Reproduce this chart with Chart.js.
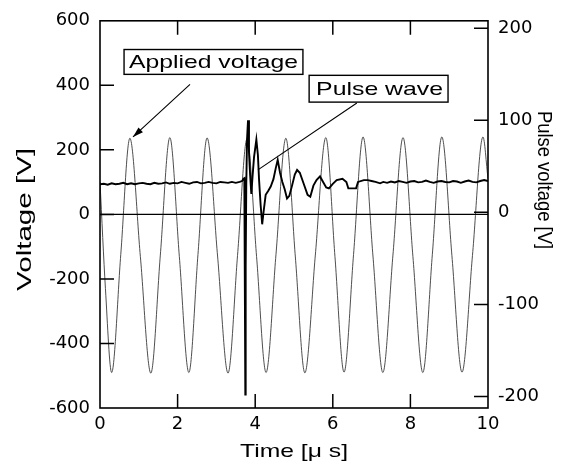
<!DOCTYPE html>
<html>
<head>
<meta charset="utf-8">
<script src="https://cdn.jsdelivr.net/npm/chart.js@4.4.1/dist/chart.umd.min.js"></script>
<style>
  html, body { margin: 0; padding: 0; background: #fff; }
</style>
</head>
<body>
<canvas id="grafico" width="570" height="466"></canvas>
<script>
// Valores (tiempo en µs, tensión en V)
const xTicks = [0, 2, 4, 6, 8, 10];
const leftTicks = [-600, -400, -200, 0, 200, 400, 600];
const rightTicks = [-200, -100, 0, 100, 200];

// Tensión aplicada (eje izquierdo)
const appliedTime = [0, 0.14, 0.30, 0.535, 0.77, 1.04, 1.31, 1.555, 1.80, 2.045, 2.29, 2.525, 2.76, 3.03,
  3.30, 3.545, 3.79, 4.035, 4.28, 4.535, 4.79, 5.035, 5.28, 5.55, 5.82, 6.055, 6.29, 6.535, 6.78, 7.035,
  7.29, 7.55, 7.81, 8.065, 8.32, 8.565, 8.81, 9.07, 9.33, 9.60, 9.87, 10];
const appliedVolt = [100, -230, -490, -125, 236, -130, -492, -126, 238, -131, -490, -124, 237, -129,
  -492, -127, 234, -130, -490, -125, 236, -132, -491, -126, 238, -130, -489, -124, 240, -129,
  -490, -126, 238, -131, -490, -125, 240, -128, -489, -127, 240, 110];

// Onda de pulso (eje derecho)
const pulseTime = [0, 0.1, 0.2, 0.3, 0.4, 0.5, 0.6, 0.7, 0.8, 0.9, 1.0, 1.1, 1.2, 1.3, 1.4, 1.5, 1.6, 1.7,
  1.8, 1.9, 2.0, 2.1, 2.2, 2.3, 2.4, 2.5, 2.6, 2.7, 2.8, 2.9, 3.0, 3.1, 3.2, 3.3, 3.4, 3.5, 3.6,
  3.66, 3.70, 3.72, 3.735, 3.745, 3.755, 3.77, 3.79, 3.815, 3.84, 3.87, 3.90, 3.93, 3.97, 4.03, 4.07,
  4.10, 4.14, 4.18, 4.22, 4.27, 4.33, 4.40, 4.47, 4.53, 4.58, 4.64, 4.70, 4.76, 4.82, 4.88, 4.95,
  5.02, 5.08, 5.15, 5.25, 5.35, 5.42, 5.50, 5.58, 5.67, 5.75, 5.83, 5.90, 6.00, 6.10, 6.25, 6.35,
  6.40, 6.60, 6.65, 6.80, 6.90, 7.00, 7.10, 7.22,
  7.3, 7.4, 7.5, 7.6, 7.7, 7.8, 7.9, 8.0, 8.1, 8.2, 8.3, 8.4, 8.5, 8.6, 8.7, 8.8, 8.9, 9.0, 9.1,
  9.2, 9.3, 9.4, 9.5, 9.6, 9.7, 9.8, 9.9, 10.0];
const pulseVolt = [30.5, 31, 30, 31.5, 30.5, 31, 32, 30.5, 31.5, 30.5, 31.5, 32, 31, 30.5, 32, 31, 31.5, 32.5,
  31, 32, 31.5, 33, 32, 31, 32.5, 33, 31.5, 32, 33, 32, 31.5, 33, 32.5, 32, 33, 32, 33,
  34, 36.5, 37, -100, -198, -60, 30, 80, 100, 65, 40, 20, 38, 60, 79, 62,
  35, 8, -13, 2, 19, 23, 28, 36, 48, 57, 43, 33, 25, 15, 18, 29,
  41, 46, 43, 31, 19, 17, 29, 35, 39, 33, 27, 26, 31, 35, 36.5, 33,
  26, 26, 33, 35, 35, 34, 33, 31.5,
  33, 32, 33.5, 32.5, 34, 33, 32, 33.5, 34, 32.5, 33, 34.5, 33, 32, 33.5, 34, 33, 32.5, 34,
  33.5, 32, 33.5, 34.5, 33, 32.5, 34, 35, 34];

const fuente = '"DejaVu Sans"';
Chart.defaults.font.family = fuente;
Chart.defaults.color = '#000';

const toPoints = (xs, ys) => xs.map((x, i) => ({ x: x, y: ys[i] }));

function textoAjustado(ctx, txt, cx, cy, largo, size, rot) {
  ctx.save();
  ctx.font = size + 'px "Liberation Sans"';
  const w = ctx.measureText(txt).width;
  ctx.translate(cx, cy);
  ctx.rotate(rot);
  ctx.scale(largo / w, 1);
  ctx.textAlign = 'center';
  ctx.textBaseline = 'middle';
  ctx.fillStyle = '#000';
  ctx.fillText(txt, 0, 0);
  ctx.restore();
}

// Marco, marcas interiores, línea de cero, rótulos y títulos
const marco = {
  id: 'marco',
  afterDatasetsDraw(chart) {
    const { ctx, chartArea: a, scales } = chart;
    const sx = scales.x, sy = scales.y, sy2 = scales.y2;
    ctx.save();
    ctx.strokeStyle = '#000';

    // línea de cero
    ctx.lineWidth = 1.2;
    ctx.beginPath();
    ctx.moveTo(a.left, sy.getPixelForValue(0));
    ctx.lineTo(a.right, sy.getPixelForValue(0));
    ctx.stroke();

    // marcas hacia dentro
    const largo = 14;
    ctx.lineWidth = 1.5;
    ctx.beginPath();
    leftTicks.slice(1, -1).forEach(v => {
      const y = sy.getPixelForValue(v);
      ctx.moveTo(a.left, y); ctx.lineTo(a.left + largo, y);
    });
    rightTicks.forEach(v => {
      const y = sy2.getPixelForValue(v);
      ctx.moveTo(a.right, y); ctx.lineTo(a.right - largo, y);
    });
    xTicks.slice(1, -1).forEach(v => {
      const x = sx.getPixelForValue(v);
      ctx.moveTo(x, a.bottom); ctx.lineTo(x, a.bottom - largo);
      ctx.moveTo(x, a.top); ctx.lineTo(x, a.top + largo);
    });
    ctx.stroke();

    // marco
    ctx.lineWidth = 1.6;
    ctx.strokeRect(a.left, a.top, a.right - a.left, a.bottom - a.top);

    // rótulo "Applied voltage"
    const px = v => sx.getPixelForValue(v);
    const py = v => sy.getPixelForValue(v);
    ctx.fillStyle = '#fff';
    ctx.lineWidth = 1.4;
    let x0 = px(0.62), x1 = px(5.23), y0 = py(511), y1 = py(434);
    ctx.fillRect(x0, y0, x1 - x0, y1 - y0);
    ctx.strokeRect(x0, y0, x1 - x0, y1 - y0);
    textoAjustado(ctx, 'Applied voltage', (x0 + x1) / 2, (y0 + y1) / 2 + 1, 169, 19, 0);

    // rótulo "Pulse wave"
    x0 = px(5.39); x1 = px(8.97); y0 = py(431); y1 = py(348);
    ctx.fillStyle = '#fff';
    ctx.fillRect(x0, y0, x1 - x0, y1 - y0);
    ctx.strokeRect(x0, y0, x1 - x0, y1 - y0);
    textoAjustado(ctx, 'Pulse wave', (x0 + x1) / 2 + 1, (y0 + y1) / 2 + 1, 127, 19, 0);

    // flecha y línea guía
    ctx.lineWidth = 1.1;
    const ax0 = px(2.32), ay0 = py(403), ax1 = px(0.85), ay1 = py(240);
    ctx.beginPath();
    ctx.moveTo(ax0, ay0); ctx.lineTo(ax1, ay1);
    ctx.moveTo(px(6.62), py(345)); ctx.lineTo(px(4.07), py(138));
    ctx.stroke();
    const ang = Math.atan2(ay1 - ay0, ax1 - ax0);
    ctx.fillStyle = '#000';
    ctx.beginPath();
    ctx.moveTo(ax1, ay1);
    ctx.lineTo(ax1 - 11 * Math.cos(ang - 0.3), ay1 - 11 * Math.sin(ang - 0.3));
    ctx.lineTo(ax1 - 11 * Math.cos(ang + 0.3), ay1 - 11 * Math.sin(ang + 0.3));
    ctx.closePath();
    ctx.fill();

    // títulos de ejes
    textoAjustado(ctx, 'Voltage [V]', 25, (a.top + a.bottom) / 2 + 5, 143, 20, -Math.PI / 2);
    textoAjustado(ctx, 'Time [μ s]', (a.left + a.right) / 2, 452, 108, 19, 0);
    textoAjustado(ctx, 'Pulse voltage [V]', 544, 180, 138, 21, Math.PI / 2);
    ctx.restore();
  }
};

const ctx = document.getElementById('grafico').getContext('2d');
new Chart(ctx, {
  type: 'line',
  data: {
    datasets: [
      {
        label: 'Pulse wave',
        data: toPoints(pulseTime, pulseVolt),
        yAxisID: 'y2',
        borderColor: '#000',
        borderWidth: 1.9,
        pointRadius: 0,
        tension: 0,
        order: 0
      },
      {
        label: 'Applied voltage',
        data: toPoints(appliedTime, appliedVolt),
        yAxisID: 'y',
        borderColor: '#3a3a3a',
        borderWidth: 0.9,
        pointRadius: 0,
        cubicInterpolationMode: 'monotone',
        order: 1
      }
    ]
  },
  options: {
    responsive: false,
    animation: false,
    devicePixelRatio: 1,
    layout: { padding: { top: 18, left: 0, right: 0, bottom: 0 } },
    plugins: { legend: { display: false }, tooltip: { enabled: false } },
    scales: {
      x: {
        type: 'linear', min: 0, max: 10,
        afterBuildTicks: s => { s.ticks = xTicks.map(v => ({ value: v })); },
        afterFit: s => { s.height = 58; },
        grid: { display: false, drawTicks: false },
        border: { display: false },
        ticks: { font: { size: 18 }, padding: 6, maxRotation: 0 }
      },
      y: {
        position: 'left', min: -600, max: 600,
        afterBuildTicks: s => { s.ticks = leftTicks.map(v => ({ value: v })); },
        afterFit: s => { s.width = 100; },
        grid: { display: false, drawTicks: false },
        border: { display: false },
        ticks: { font: { size: 18 }, padding: 10 }
      },
      y2: {
        position: 'right', min: -212.5, max: 208,
        afterBuildTicks: s => { s.ticks = rightTicks.map(v => ({ value: v })); },
        afterFit: s => { s.width = 82; },
        grid: { display: false, drawTicks: false },
        border: { display: false },
        ticks: { font: { size: 18 }, padding: 10 }
      }
    }
  },
  plugins: [marco]
});
</script>
</body>
</html>
